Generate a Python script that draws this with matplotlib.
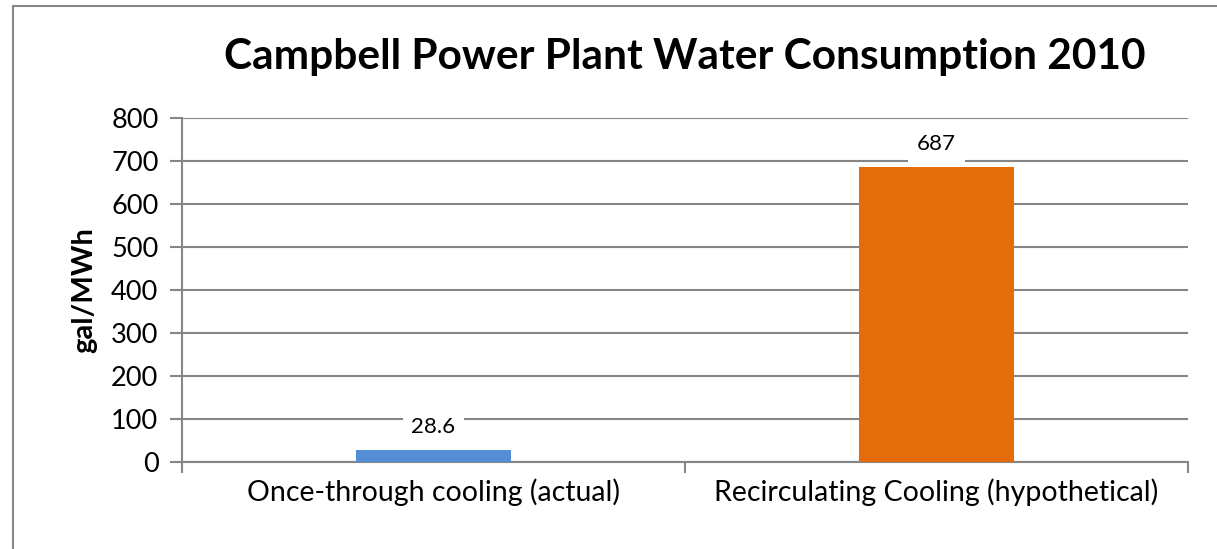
import matplotlib
matplotlib.use("Agg")
import matplotlib.pyplot as plt
from matplotlib.patches import Rectangle
import numpy as np

# data
categories = ["Once-through cooling (actual)", "Recirculating Cooling (hypothetical)"]
values = [28.6, 687]
value_labels = ["28.6", "687"]
bar_colors = ["#558ED5", "#E46C0A"]
yticks = [0, 100, 200, 300, 400, 500, 600, 700, 800]

plt.rcParams['font.family'] = ['Lato', 'DejaVu Sans']
W, H = 1217, 549
fig = plt.figure(figsize=(W / 100, H / 100), dpi=100)
ax = fig.add_axes([182 / W, 1 - 462 / H, (1188 - 182) / W, (462 - 118) / H])

grid_c = "#868686"
x = np.arange(len(categories))
bars = ax.bar(x, values, width=0.31, color=bar_colors, zorder=3)
ax.set_xlim(-0.5, len(categories) - 0.5)
ax.set_ylim(0, 800)
ax.set_yticks(yticks)
ax.set_yticklabels([str(v) for v in yticks], fontsize=19.5)
ax.yaxis.grid(True, color=grid_c, lw=1.5, zorder=0)
ax.set_axisbelow(True)

# category labels, tick marks at boundaries
ax.set_xticks(x)
ax.set_xticklabels(categories, fontsize=20.5)
ax.tick_params(axis='x', length=0, pad=12)
ax.set_xticks(np.arange(len(categories) + 1) - 0.5, minor=True)
ax.tick_params(axis='x', which='minor', length=8, width=1.5, color=grid_c)
ax.tick_params(axis='y', length=9, width=1.5, color=grid_c, pad=8)

for s in ['top', 'right']:
    ax.spines[s].set_visible(False)
for s in ['left', 'bottom']:
    ax.spines[s].set_color(grid_c)
    ax.spines[s].set_linewidth(1.5)

for b, lab in zip(bars, value_labels):
    ax.annotate(lab, (b.get_x() + b.get_width() / 2, b.get_height()),
                xytext=(0, 16), textcoords='offset points', ha='center', va='center',
                fontsize=16, zorder=5,
                bbox=dict(boxstyle='square,pad=0.4', fc='white', ec='none'))

ax.set_ylabel("gal/MWh", fontsize=21, fontweight='bold')
ax.yaxis.set_label_coords((97 - 182) / (1188 - 182), 0.5)
fig.text((182 + 1188) / 2 / W + 0.0, 1 - 57 / H,
         "Campbell Power Plant Water Consumption 2010",
         ha='center', va='center', fontsize=30.5, fontweight='bold')

# chart area border, clipped at right and bottom like the reference
fig.patches.append(Rectangle((13 / W, -0.1), 1.2, 1 - 6 / H + 0.1,
                             transform=fig.transFigure, fill=False,
                             ec=grid_c, lw=1.5))

fig.savefig("out.png", dpi=100, facecolor="white")
